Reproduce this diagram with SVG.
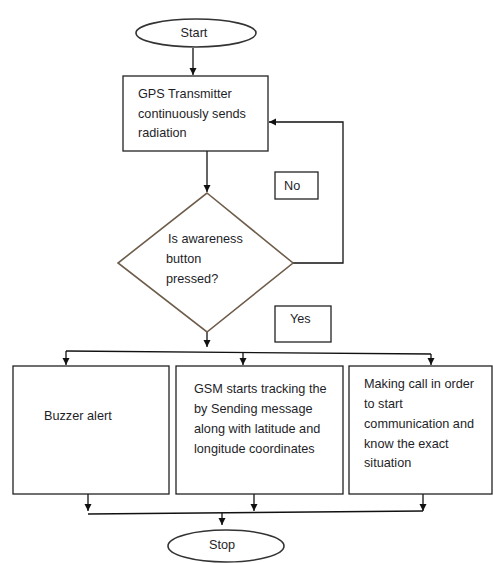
<svg xmlns="http://www.w3.org/2000/svg" width="493" height="563" viewBox="0 0 493 563">
<defs>
<marker id="ah" markerWidth="8" markerHeight="8" refX="7" refY="4" orient="auto" markerUnits="userSpaceOnUse">
<path d="M0,0.5 L7,4 L0,7.5 Z" fill="#111"/>
</marker>
<style>
.box{fill:#fff;stroke:#222;stroke-width:1.3}
.term{fill:#fff;stroke:#333;stroke-width:1.6}
.dia{fill:#fff;stroke:#6e5d4b;stroke-width:1.6}
.ln{fill:none;stroke:#111;stroke-width:1.3}
.t{font-family:"Liberation Sans",Arial,sans-serif;font-size:12.7px;fill:#1e1e28}
</style>
</defs>
<rect width="493" height="563" fill="#fff"/>
<g id="connectors">
<path class="ln" d="M193,48 V75" marker-end="url(#ah)"/>
<path class="ln" d="M207,151 V192" marker-end="url(#ah)"/>
<path class="ln" d="M293,263 H343 V122 H269" marker-end="url(#ah)"/>
<path class="ln" d="M207,332 V347" marker-end="url(#ah)"/>
<path class="ln" d="M66,351 L431,354"/>
<path class="ln" d="M66,351 V365" marker-end="url(#ah)"/>
<path class="ln" d="M243,352 V365" marker-end="url(#ah)"/>
<path class="ln" d="M431,354 V365" marker-end="url(#ah)"/>
<path class="ln" d="M88,494 V511" marker-end="url(#ah)"/>
<path class="ln" d="M254,494 V511" marker-end="url(#ah)"/>
<path class="ln" d="M423,494 V511" marker-end="url(#ah)"/>
<path class="ln" d="M88,514 L423,511"/>
<path class="ln" d="M222,513 V525" marker-end="url(#ah)"/>
</g>
<g id="start">
<ellipse class="term" cx="196" cy="33" rx="60" ry="14"/>
<text class="t" x="194" y="37" text-anchor="middle">Start</text>
</g>
<g id="gps">
<rect class="box" x="123" y="76" width="145" height="75"/>
<text class="t" x="138" y="98">GPS Transmitter</text>
<text class="t" x="138" y="118">continuously  sends</text>
<text class="t" x="138" y="137">radiation</text>
</g>
<g id="decision">
<polygon class="dia" points="207,193 293,263 207,332 118,263"/>
<text class="t" x="168" y="243">Is awareness</text>
<text class="t" x="166" y="263">button</text>
<text class="t" x="166" y="283">pressed?</text>
</g>
<g id="no">
<rect class="box" x="275" y="172" width="43" height="27"/>
<text class="t" x="284" y="190">No</text>
</g>
<g id="yes">
<rect class="box" x="275" y="306" width="56" height="36"/>
<text class="t" x="290" y="323">Yes</text>
</g>
<g id="buzzer">
<rect class="box" x="13" y="366" width="156" height="128"/>
<text class="t" x="44" y="420">Buzzer alert</text>
</g>
<g id="gsm">
<rect class="box" x="176" y="366" width="167" height="128"/>
<text class="t" x="194" y="393">GSM starts tracking the</text>
<text class="t" x="194" y="413">by Sending message</text>
<text class="t" x="194" y="433">along with latitude  and</text>
<text class="t" x="194" y="453">longitude  coordinates</text>
</g>
<g id="call">
<rect class="box" x="349" y="366" width="143" height="128"/>
<text class="t" x="364" y="388">Making call in order</text>
<text class="t" x="364" y="408">to start</text>
<text class="t" x="364" y="428">communication  and</text>
<text class="t" x="364" y="448">know the exact</text>
<text class="t" x="364" y="467">situation</text>
</g>
<g id="stop">
<ellipse class="term" cx="226" cy="546" rx="58" ry="16"/>
<text class="t" x="222" y="549" text-anchor="middle">Stop</text>
</g>
</svg>
